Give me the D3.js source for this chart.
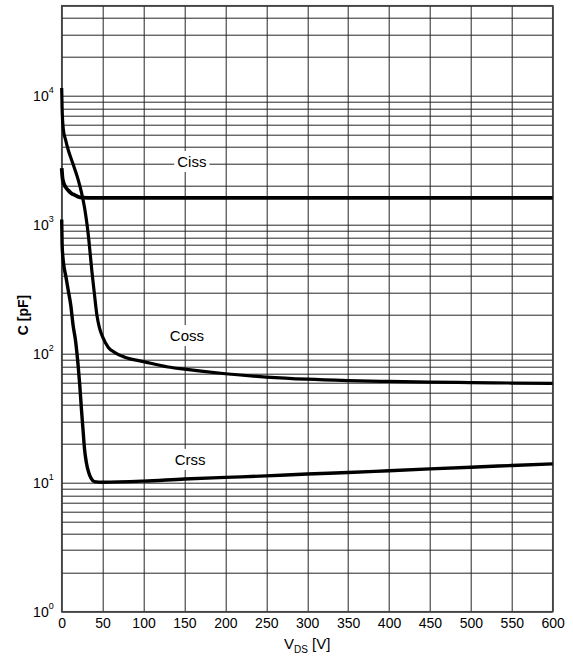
<!DOCTYPE html>
<html>
<head>
<meta charset="utf-8">
<script src="https://cdn.jsdelivr.net/npm/d3@7"></script>
<style>
  body { margin: 0; background: #fff; }
  text { font-family: "Liberation Sans", Arial, sans-serif; fill: #000; }
</style>
</head>
<body>
<svg id="chart"></svg>
<script>
// Capacitance vs drain-source voltage
const cissV = [0, 1, 2, 5, 8, 12, 16, 20, 25, 40, 100, 200, 300, 400, 500, 600];
const cissC = [2750, 2300, 2150, 1950, 1850, 1750, 1700, 1650, 1625, 1620, 1620, 1620, 1620, 1620, 1620, 1620];

const cossV = [0, 0.5, 2, 5, 8, 12, 16, 20, 24, 28, 31, 33, 35, 37, 40, 43, 46, 50, 57, 65, 77, 100, 130, 150, 200, 250, 300, 350, 400, 450, 500, 550, 600];
const cossC = [11500, 8000, 5500, 4500, 3800, 3200, 2700, 2250, 1800, 1350, 1000, 780, 580, 430, 290, 200, 160, 135, 112, 102, 94, 87, 79, 76, 70, 66, 63.5, 62, 61, 60.3, 59.8, 59.3, 58.9];

const crssV = [0, 0.5, 2, 5, 8, 11, 14, 17, 20, 22, 24, 26, 28, 30, 33, 36, 40, 50, 100, 150, 200, 250, 300, 350, 400, 450, 500, 550, 600];
const crssC = [1100, 700, 520, 400, 310, 240, 165, 125, 82, 58, 38, 26, 18, 14.5, 12, 10.8, 10.2, 10.1, 10.3, 10.7, 11, 11.3, 11.7, 12, 12.4, 12.8, 13.2, 13.6, 14];

const seriesNames = ['Ciss', 'Coss', 'Crss'];
const labelV = [159, 153, 157];
const labelC = [3080, 138, 15.1];

const xTicks = [0, 50, 100, 150, 200, 250, 300, 350, 400, 450, 500, 550, 600];
const yDecades = [1, 10, 100, 1000, 10000];
const yExponents = ['0', '1', '2', '3', '4'];

const W = 573, H = 657;
const margin = { top: 5.7, right: 20.3, bottom: 45.3, left: 61.7 };
const width = W - margin.left - margin.right;
const height = H - margin.top - margin.bottom;

const svg = d3.select('#chart')
    .attr('width', W)
    .attr('height', H);

const g = svg.append('g')
    .attr('transform', `translate(${margin.left},${margin.top})`);

const x = d3.scaleLinear().domain([0, 600]).range([0, width]);
const y = d3.scaleLog().domain([1, 50000]).range([height, 0]);

// minor grid values: 1..9 in each decade, up to 5e4
const gridY = [];
yDecades.forEach(d => {
    for (let k = 1; k <= 9; k++) {
        const v = d * k;
        if (v <= 50000) gridY.push(v);
    }
});

// horizontal grid
g.append('g')
    .selectAll('line')
    .data(gridY)
    .join('line')
    .attr('x1', 0)
    .attr('x2', width)
    .attr('y1', d => Math.round(y(d)) + 0.5)
    .attr('y2', d => Math.round(y(d)) + 0.5)
    .attr('stroke', '#262626')
    .attr('stroke-width', 1);

// vertical grid
g.append('g')
    .selectAll('line')
    .data(xTicks)
    .join('line')
    .attr('x1', d => Math.round(x(d)) + 0.5)
    .attr('x2', d => Math.round(x(d)) + 0.5)
    .attr('y1', 0)
    .attr('y2', height)
    .attr('stroke', '#262626')
    .attr('stroke-width', 1);

// border
g.append('rect')
    .attr('x', 0)
    .attr('y', 0)
    .attr('width', width)
    .attr('height', height)
    .attr('fill', 'none')
    .attr('stroke', '#444')
    .attr('stroke-width', 1.5);

// series labels with white boxes (drawn before curves so curves stay on top)
const labelG = g.append('g');
seriesNames.forEach((name, i) => {
    const t = labelG.append('text')
        .attr('x', x(labelV[i]))
        .attr('y', y(labelC[i]))
        .attr('dy', '0.35em')
        .attr('text-anchor', 'middle')
        .style('font-size', '15px')
        .text(name);
    const bb = t.node().getBBox();
    labelG.insert('rect', 'text')
        .attr('x', bb.x - 3)
        .attr('y', bb.y - 2)
        .attr('width', bb.width + 6)
        .attr('height', bb.height + 4)
        .attr('fill', '#fff');
});

// curves
const line = d3.line()
    .x(d => x(d[0]))
    .y(d => y(d[1]))
    .curve(d3.curveMonotoneX);

const curves = [
    { v: cissV, c: cissC, w: 3.8 },
    { v: cossV, c: cossC, w: 3.2 },
    { v: crssV, c: crssC, w: 3.4 }
];

curves.forEach(s => {
    g.append('path')
        .datum(s.v.map((v, i) => [v, s.c[i]]))
        .attr('d', line)
        .attr('fill', 'none')
        .attr('stroke', '#000')
        .attr('stroke-width', s.w)
        .attr('stroke-linejoin', 'round');
});

// x axis
const xAxis = g.append('g')
    .attr('transform', `translate(0,${height})`)
    .call(d3.axisBottom(x).tickValues(xTicks).tickSize(0).tickPadding(6).tickFormat(d3.format('d')));
xAxis.select('.domain').remove();
xAxis.selectAll('text')
    .style('font-size', '14px')
    .style('font-family', '"Liberation Sans", Arial, sans-serif')
    .attr('fill', '#000');

// y axis with 10^n labels
const yAxis = g.append('g')
    .call(d3.axisLeft(y).tickValues(yDecades).tickSize(0).tickPadding(8).tickFormat(() => ''));
yAxis.select('.domain').remove();
yAxis.selectAll('.tick text')
    .style('font-family', '"Liberation Sans", Arial, sans-serif')
    .attr('fill', '#000')
    .attr('dy', '0.45em')
    .each(function(d, i) {
        const t = d3.select(this);
        t.append('tspan').style('font-size', '14px').text('10');
        t.append('tspan').style('font-size', '9px').attr('dy', '-0.85em').text(yExponents[i]);
    });

// axis titles
const xt = svg.append('text')
    .attr('x', margin.left + width / 2)
    .attr('y', 649)
    .attr('text-anchor', 'middle')
    .style('font-size', '15px');
xt.append('tspan').text('V');
xt.append('tspan').attr('dy', '4').style('font-size', '10px').text('DS');
xt.append('tspan').attr('dy', '-4').text(' [V]');

svg.append('text')
    .attr('transform', 'rotate(-90)')
    .attr('x', -315)
    .attr('y', 28)
    .attr('text-anchor', 'middle')
    .style('font-size', '14px')
    .style('font-weight', 'bold')
    .text('C [pF]');
</script>
</body>
</html>
